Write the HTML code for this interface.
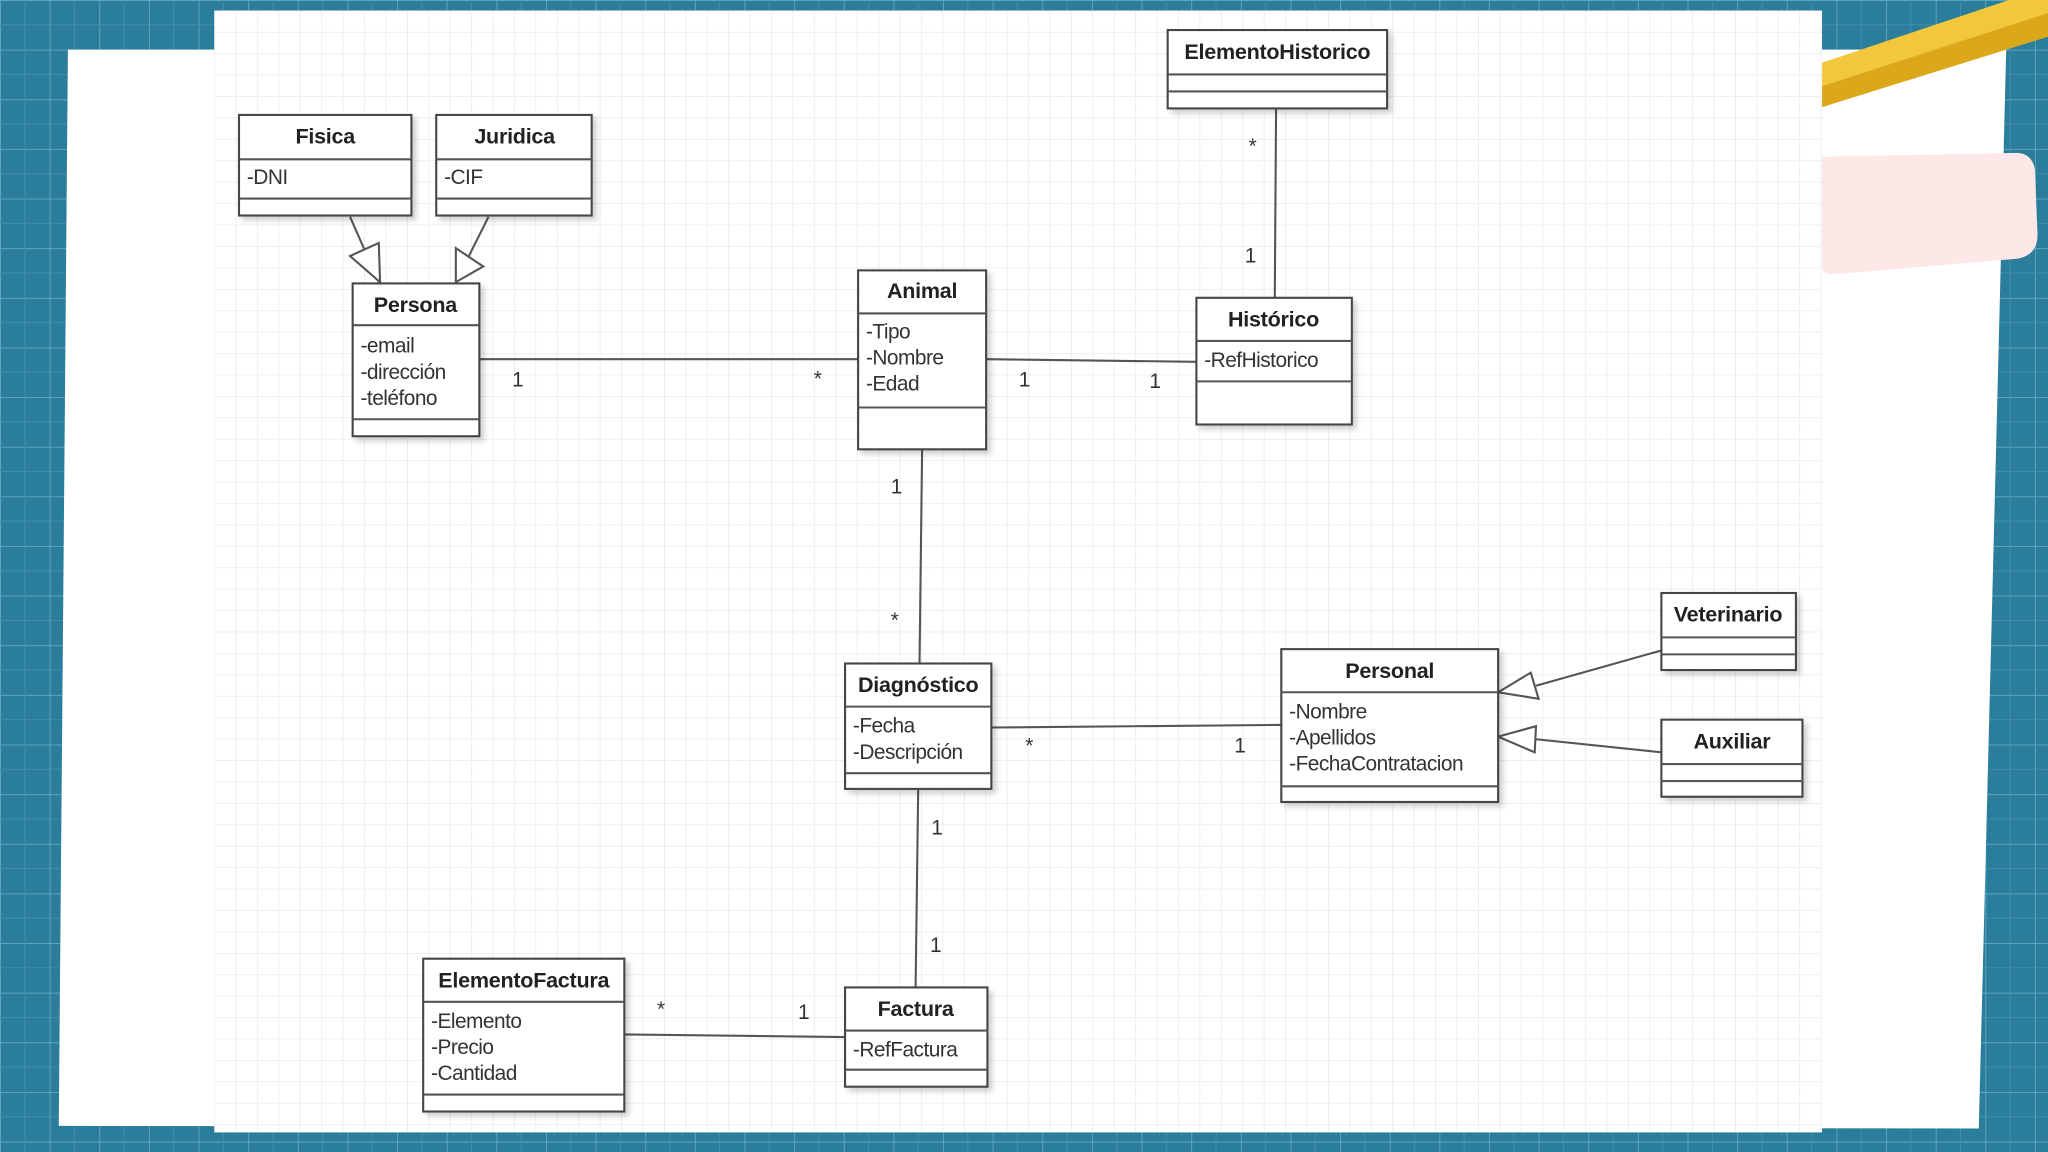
<!DOCTYPE html>
<html><head><meta charset="utf-8"><style>
html,body{margin:0;padding:0;width:2048px;height:1152px;overflow:hidden;background:#2a7d9b}
svg{display:block}
text{font-family:"Liberation Sans",Arial,sans-serif;fill:#222}
.t{font-weight:bold;font-size:16.5px;text-anchor:middle;letter-spacing:-0.2px}
.a{font-size:16px;fill:#333;letter-spacing:-0.4px}
.m{font-size:16px;fill:#333}
.b{fill:#fff;stroke:#444;stroke-width:1.6}
.l{stroke:#555;stroke-width:1.6;fill:none}
</style></head><body>
<svg width="2048" height="1152" viewBox="0 0 1568 882" xmlns="http://www.w3.org/2000/svg">
<defs>
<pattern id="bg" width="38" height="38" patternUnits="userSpaceOnUse">
<rect width="38" height="38" fill="#2a7d9b"/>
<path d="M0 0H38M0 0V38" stroke="#5aa6c0" stroke-width="1.5"/>
<path d="M19 0V38M0 19H38" stroke="#3e8eab" stroke-width="0.8"/>
</pattern>
<pattern id="gr" width="16.4" height="16.4" patternUnits="userSpaceOnUse" x="164" y="8">
<rect width="16.4" height="16.4" fill="#fff"/>
<path d="M0 0H16.4M0 0V16.4" stroke="#e6e6ec" stroke-width="1"/>
</pattern>
<filter id="sh"><feDropShadow dx="3" dy="3" stdDeviation="2" flood-color="#000" flood-opacity="0.18"/></filter>
</defs>
<rect width="1568" height="882" fill="url(#bg)"/>
<polygon points="52,38 1536,38 1515,864 45,862" fill="#fff"/>
<polygon points="1395,48 1568,-10 1568,28 1395,82" fill="#f1c83c"/>
<polygon points="1395,66 1568,10 1568,28 1395,82" fill="#dca81b"/>
<rect x="164" y="8" width="1231" height="859" fill="url(#gr)"/>
<path d="M1395 120 L1545 117 Q1556 118 1558 130 L1560 180 Q1560 195 1545 198 L1405 210 Q1395 210 1395 205 Z" fill="#fde8e7"/>

<g class="l">
<line x1="268" y1="166" x2="290" y2="216"/>
<polygon points="268,196 290,186 291,216" fill="#fff"/>
<line x1="374" y1="166" x2="349" y2="216"/>
<polygon points="349,190 370,204 349,216" fill="#fff"/>
<line x1="367" y1="275" x2="657" y2="275"/>
<line x1="755" y1="275" x2="916" y2="277"/>
<line x1="977" y1="83" x2="976" y2="228"/>
<line x1="706" y1="344" x2="704" y2="508"/>
<line x1="759" y1="557" x2="981" y2="555"/>
<line x1="703" y1="604" x2="701" y2="756"/>
<line x1="478" y1="792" x2="647" y2="794"/>
<line x1="1272" y1="498" x2="1176" y2="525"/>
<polygon points="1147,530 1172,515 1178,535" fill="#fff"/>
<line x1="1272" y1="576" x2="1176" y2="566"/>
<polygon points="1147,564 1176,556 1175,576" fill="#fff"/>
</g>
<g>
<text x="392" y="296" class="m">1</text>
<text x="623" y="295" class="m">*</text>
<text x="780" y="296" class="m">1</text>
<text x="880" y="297" class="m">1</text>
<text x="956" y="117" class="m">*</text>
<text x="953" y="201" class="m">1</text>
<text x="682" y="378" class="m">1</text>
<text x="682" y="480" class="m">*</text>
<text x="785" y="576" class="m">*</text>
<text x="945" y="576" class="m">1</text>
<text x="713" y="639" class="m">1</text>
<text x="712" y="729" class="m">1</text>
<text x="503" y="778" class="m">*</text>
<text x="611" y="780" class="m">1</text>
</g>

<g filter="url(#sh)">
<rect class="b" x="183" y="88" width="132" height="77"/>
<rect class="b" x="334" y="88" width="119" height="77"/>
<rect class="b" x="270" y="217" width="97" height="117"/>
<rect class="b" x="657" y="207" width="98" height="137"/>
<rect class="b" x="916" y="228" width="119" height="97"/>
<rect class="b" x="894" y="23" width="168" height="60"/>
<rect class="b" x="647" y="508" width="112" height="96"/>
<rect class="b" x="981" y="497" width="166" height="117"/>
<rect class="b" x="1272" y="454" width="103" height="59"/>
<rect class="b" x="1272" y="551" width="108" height="59"/>
<rect class="b" x="647" y="756" width="109" height="76"/>
<rect class="b" x="324" y="734" width="154" height="117"/>
</g>
<g class="l" stroke="#444">
<path d="M183 122H315M183 152H315"/>
<path d="M334 122H453M334 152H453"/>
<path d="M270 249H367M270 321H367"/>
<path d="M657 240H755M657 312H755"/>
<path d="M916 261H1035M916 292H1035"/>
<path d="M894 57H1062M894 70H1062"/>
<path d="M647 541H759M647 592H759"/>
<path d="M981 530H1147M981 602H1147"/>
<path d="M1272 488H1375M1272 501H1375"/>
<path d="M1272 585H1380M1272 598H1380"/>
<path d="M647 789H756M647 819H756"/>
<path d="M324 767H478M324 838H478"/>
</g>
<text class="t" x="249" y="110">Fisica</text>
<text class="a" x="189" y="141">-DNI</text>
<text class="t" x="394" y="110">Juridica</text>
<text class="a" x="340" y="141">-CIF</text>
<text class="t" x="318" y="239">Persona</text>
<text class="a" x="276" y="270">-email</text>
<text class="a" x="276" y="290">-dirección</text>
<text class="a" x="276" y="310">-teléfono</text>
<text class="t" x="706" y="228">Animal</text>
<text class="a" x="663" y="259">-Tipo</text>
<text class="a" x="663" y="279">-Nombre</text>
<text class="a" x="663" y="299">-Edad</text>
<text class="t" x="975" y="250">Histórico</text>
<text class="a" x="922" y="281">-RefHistorico</text>
<text class="t" x="978" y="45">ElementoHistorico</text>
<text class="t" x="703" y="530">Diagnóstico</text>
<text class="a" x="653" y="561">-Fecha</text>
<text class="a" x="653" y="581">-Descripción</text>
<text class="t" x="1064" y="519">Personal</text>
<text class="a" x="987" y="550">-Nombre</text>
<text class="a" x="987" y="570">-Apellidos</text>
<text class="a" x="987" y="590">-FechaContratacion</text>
<text class="t" x="1323" y="476">Veterinario</text>
<text class="t" x="1326" y="573">Auxiliar</text>
<text class="t" x="701" y="778">Factura</text>
<text class="a" x="653" y="809">-RefFactura</text>
<text class="t" x="401" y="756">ElementoFactura</text>
<text class="a" x="330" y="787">-Elemento</text>
<text class="a" x="330" y="807">-Precio</text>
<text class="a" x="330" y="827">-Cantidad</text>
</svg>
</body></html>
